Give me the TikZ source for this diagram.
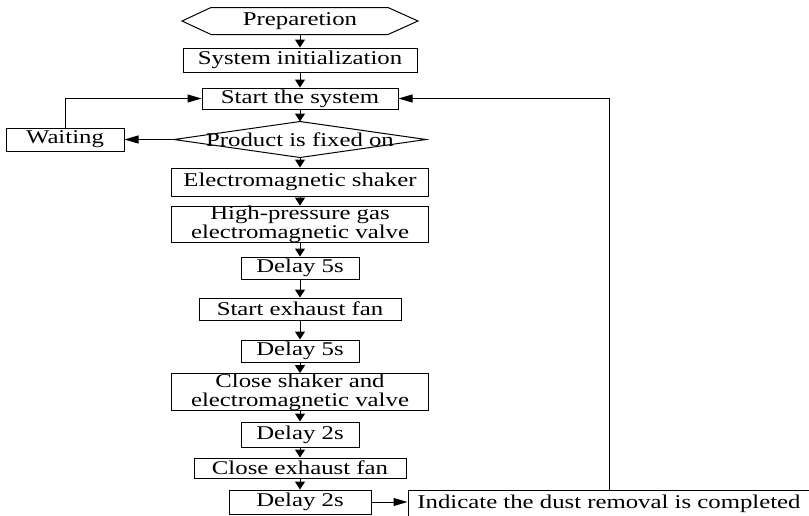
\documentclass[tikz,border=0pt]{standalone}
\usepackage{fontspec}
\setmainfont{Liberation Serif}[FakeStretch=1.27]
\usetikzlibrary{arrows.meta}

\begin{document}
\begin{tikzpicture}[x=1pt,y=-1pt]
	\useasboundingbox (0,0) rectangle (809,515);
	\begin{scope}[line width=1pt, font=\fontsize{19.5}{19}\selectfont]
		\tikzstyle{every node}=[rectangle,inner sep=0pt,align=center]
		\tikzstyle{box}=[draw]
		\tikzstyle{flow}=[-{Triangle[length=8pt,width=10pt]}]
		\tikzstyle{back}=[-{Triangle[length=14pt,width=8pt]}]
		% main column
		\node[minimum width=235pt,minimum height=26pt] at (300,21) (prep) {Preparetion};
		\node[box,minimum width=234pt,minimum height=24pt] at (300,60) (init) {System initialization};
		\node[box,minimum width=196pt,minimum height=21pt] at (300,98.5) (start) {Start the system};
		\node[minimum width=251pt,minimum height=35pt] at (300,139.5) (fixed) {Product is fixed on};
		\node[box,minimum width=257pt,minimum height=28pt] at (300,182) (shaker) {Electromagnetic shaker};
		\node[box,minimum width=257pt,minimum height=33pt] at (300,224.5) (valve) {High-pressure gas\\electromagnetic valve};
		\node[box,minimum width=118pt,minimum height=22pt] at (300,268) (d1) {Delay 5s};
		\node[box,minimum width=202pt,minimum height=22pt] at (300,309) (fan) {Start exhaust fan};
		\node[box,minimum width=118pt,minimum height=22pt] at (300,351) (d2) {Delay 5s};
		\node[box,minimum width=257pt,minimum height=36pt] at (300,392) (close) {Close shaker and\\electromagnetic valve};
		\node[box,minimum width=118pt,minimum height=25pt] at (300,434.5) (d3) {Delay 2s};
		\node[box,minimum width=212pt,minimum height=20pt] at (300,468) (cfan) {Close exhaust fan};
		\node[box,minimum width=142pt,minimum height=24pt] at (300,502) (d4) {Delay 2s};
		% side boxes
		\node[box,minimum width=118pt,minimum height=23pt] at (65,139.5) (wait) {Waiting};
		\node[box,minimum width=402pt,minimum height=28pt] at (609,504) (done) {Indicate the dust removal is completed};
		% hexagon and decision outlines
		\draw (prep.west)--([xshift=29pt]prep.north west)--([xshift=-30pt]prep.north east)--(prep.east)
			--([xshift=-30pt]prep.south east)--([xshift=29pt]prep.south west)--cycle;
		\draw (fixed.west)--(fixed.north)--(fixed.east)--(fixed.south)--cycle;
		\foreach \a/\b in {prep/init,init/start,start/fixed,fixed/shaker,shaker/valve,valve/d1,
			d1/fan,fan/d2,d2/close,close/d3,d3/cfan,cfan/d4}
		{\draw[flow] (\a.south)--(\b.north);}
		\draw[back] (fixed.west)--(wait.east);
		\draw[back] (wait.north) |- (start.west);
		\draw[back] (d4.east)--(d4.east -| done.west);
		\draw[back] (done.north) |- (start.east);
	\end{scope}
\end{tikzpicture}
\end{document}
